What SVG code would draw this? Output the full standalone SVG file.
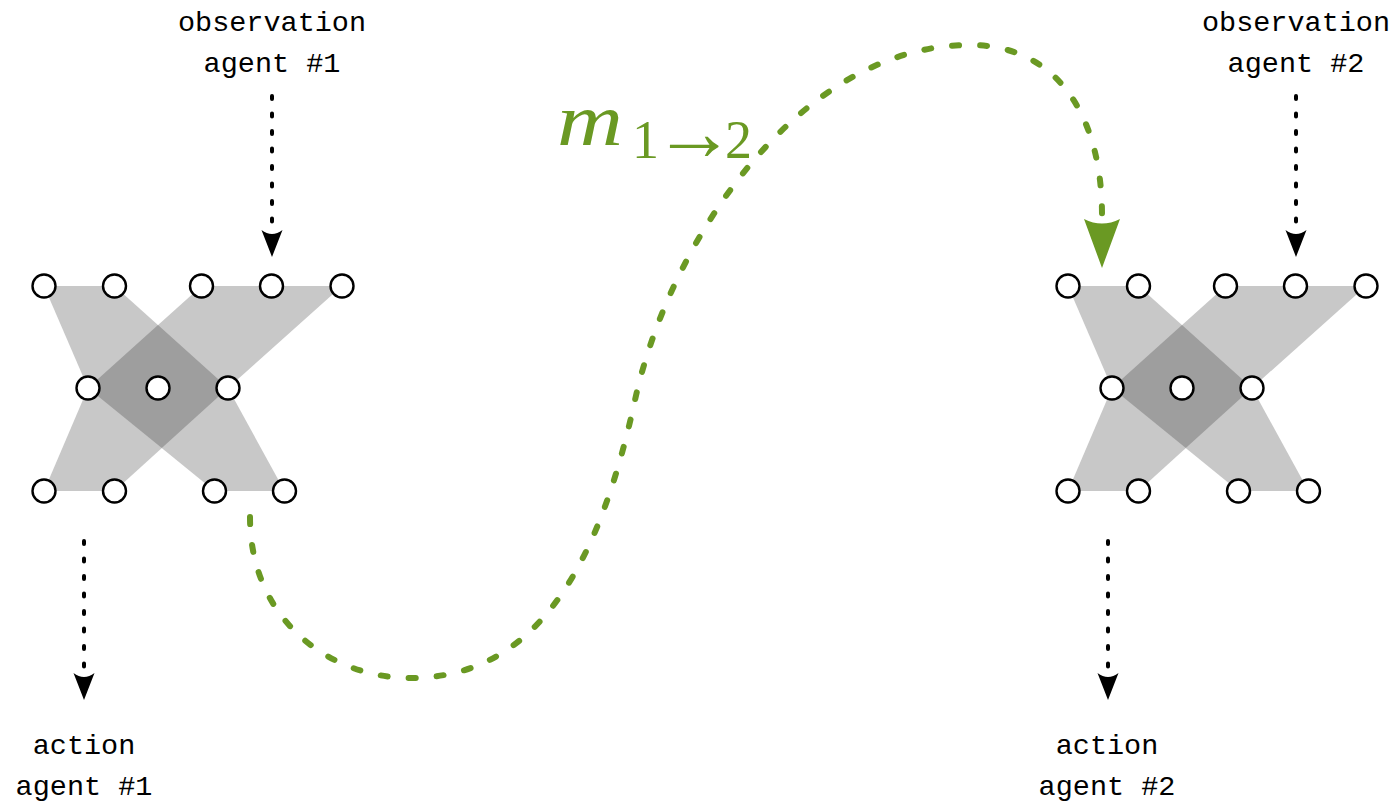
<svg xmlns="http://www.w3.org/2000/svg" width="1399" height="806" viewBox="0 0 1399 806">
<style>
.light{fill:#c8c8c8}
.dark{fill:#9e9e9e}
.n{fill:#fff;stroke:#000;stroke-width:2.4}
.lbl{font-family:"Liberation Mono","DejaVu Sans Mono",monospace;font-size:28.5px;fill:#000;text-anchor:middle}
.dot{stroke:#000;stroke-width:4;stroke-linecap:round;stroke-dasharray:3 14.5;fill:none}
.msg{stroke:#6a9923;stroke-width:6;stroke-linecap:round;stroke-dasharray:7 21;fill:none}
.head{fill:#000}
.ghead{fill:#6a9923}
.m{font-family:"Liberation Serif","DejaVu Serif",serif;fill:#6a9923}
</style>
<defs>
<g id="net">
<polygon class="light" points="44,286 114.5,286 228,388 88,388"/>
<polygon class="light" points="201.5,286 342,286 228,388 88,388"/>
<polygon class="light" points="88,388 228,388 114.5,491 44,491"/>
<polygon class="light" points="88,388 228,388 284.5,491 214.5,491"/>
<polygon class="dark" points="158,325 228,388 161.8,448 88,388"/>
<circle class="n" cx="44" cy="286" r="11.5"/>
<circle class="n" cx="114.5" cy="286" r="11.5"/>
<circle class="n" cx="201.5" cy="286" r="11.5"/>
<circle class="n" cx="271.5" cy="286" r="11.5"/>
<circle class="n" cx="342" cy="286" r="11.5"/>
<circle class="n" cx="88" cy="388" r="11.5"/>
<circle class="n" cx="158" cy="388" r="11.5"/>
<circle class="n" cx="228" cy="388" r="11.5"/>
<circle class="n" cx="44" cy="491" r="11.5"/>
<circle class="n" cx="114.5" cy="491" r="11.5"/>
<circle class="n" cx="214.5" cy="491" r="11.5"/>
<circle class="n" cx="284.5" cy="491" r="11.5"/>
</g>
</defs>
<g id="agent1">
<use href="#net"/>
</g>
<g id="agent2">
<use href="#net" transform="translate(1024,0)"/>
</g>
<g id="obs1">
<text class="lbl" x="272" y="31">observation</text>
<text class="lbl" x="272" y="72">agent #1</text>
</g>
<g id="obs2">
<text class="lbl" x="1296" y="31">observation</text>
<text class="lbl" x="1296" y="72">agent #2</text>
</g>
<g id="act1">
<text class="lbl" x="84" y="754">action</text>
<text class="lbl" x="84" y="795">agent #1</text>
</g>
<g id="act2">
<text class="lbl" x="1107" y="754">action</text>
<text class="lbl" x="1107" y="795">agent #2</text>
</g>
<g id="connectors">
<line class="dot" x1="272" y1="96" x2="272" y2="232"/>
<path class="head" d="M261.5,230 Q272,238 282.5,230 L272,257 Z"/>
<line class="dot" x1="1296" y1="96" x2="1296" y2="232"/>
<path class="head" d="M1285.5,230 Q1296,238 1306.5,230 L1296,257 Z"/>
<line class="dot" x1="84" y1="541" x2="84" y2="675"/>
<path class="head" d="M73.5,673 Q84,681 94.5,673 L84,700 Z"/>
<line class="dot" x1="1108" y1="541" x2="1108" y2="675"/>
<path class="head" d="M1097.5,673 Q1108,681 1118.5,673 L1108,700 Z"/>
<path class="msg" d="M250,517 C250,620 330,678 410,678 C540,678 600,560 635,400 C670,240 800,45 970,45 C1060,45 1102,120 1102,215"/>
<path class="ghead" d="M1084,219 Q1102,228 1120,219 L1102,268 Z"/>
<g id="msglabel">
<text class="m" x="557" y="145" font-size="74" font-style="italic" textLength="66" lengthAdjust="spacingAndGlyphs">m</text>
<text class="m" y="158" font-size="54"><tspan x="632">1</tspan><tspan x="653" y="160" font-size="82">→</tspan><tspan x="725" y="158">2</tspan></text>
</g>
</g>
</svg>
